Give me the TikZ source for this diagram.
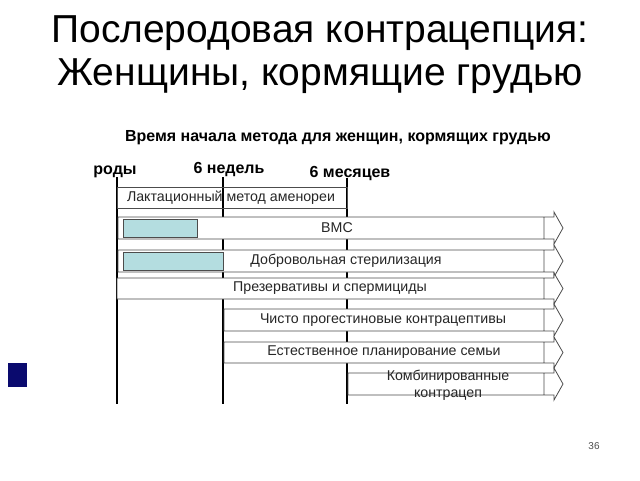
\documentclass[tikz,border=0pt]{standalone}
\usepackage{fontspec}
\setmainfont{Liberation Sans}
\usepackage{tikz}
\usepackage{xcolor}
\usetikzlibrary{positioning}
\definecolor{iudblue}{HTML}{B4DDE0}
\definecolor{slidenavy}{HTML}{0A0A6E}

\begin{document}
\begin{tikzpicture}[x=1pt, y=-1pt, every node/.style={inner sep=0pt},
  timeline/.style={line width=2.6pt},
  rowbox/.style={draw=black!70, fill=white, line width=0.8pt},
  rowtext/.style={font=\fontsize{14.2}{15}\selectfont, text=black!85},
  milestone/.style={font=\bfseries\fontsize{16}{18}\selectfont, anchor=base}]
  \useasboundingbox (0,0) rectangle (640,480);
  % Title
  \node[anchor=base, font=\fontsize{39}{43}\selectfont] (title1) at (320,42) {Послеродовая контрацепция:};
  \node[anchor=base, font=\fontsize{39}{43}\selectfont] (title2) at (320,85) {Женщины, кормящие грудью};
  \node[anchor=base, font=\bfseries\fontsize{16}{18}\selectfont] (subtitle) at (338,141) {Время начала метода для женщин, кормящих грудью};
  % Milestones along the time axis
  \node[milestone] (birth) at (115,174) {роды};
  \node[milestone] (weeks) at (229,173) {6 недель};
  \node[milestone] (months) at (350,177) {6 месяцев};
  \coordinate (birth top) at (117,177);   \coordinate (birth bot) at (117,404);
  \coordinate (weeks top) at (223,177);   \coordinate (weeks bot) at (223,404);
  \coordinate (months top) at (347,178);  \coordinate (months bot) at (347,404);
  \draw[timeline] (birth top) -- (birth bot);
  \draw[timeline] (weeks top) -- (weeks bot);
  \draw[timeline] (months top) -- (months bot);
  % Lactational amenorrhea (no arrow)
  \draw[draw=black!70, line width=0.8pt] (117,187) rectangle (347,208);
  \node[rowtext] (lam) at (231,198) {Лактационный метод аменореи};
  % IUD
  \draw[rowbox] (118,217) rectangle (544,239)
    (544,217) -- (554,217) -- (554,212) -- (563,228) -- (554,244) -- (554,239) -- (544,239);
  \draw[draw=black!70, fill=iudblue, line width=0.8pt] (123,219) rectangle (197,237);
  \node[rowtext] (iud) at (337,228) {ВМС};
  % Sterilisation
  \draw[rowbox] (118,250) rectangle (544,272)
    (544,250) -- (554,250) -- (554,245) -- (563,261) -- (554,277) -- (554,272) -- (544,272);
  \draw[draw=black!70, fill=iudblue, line width=0.8pt] (123,252) rectangle (223,270);
  \node[rowtext] (steril) at (346,261) {Добровольная стерилизация};
  % Condoms and spermicides
  \draw[rowbox] (117,278) rectangle (544,299)
    (544,278) -- (554,278) -- (554,273) -- (563,288.5) -- (554,304) -- (554,299) -- (544,299);
  \node[rowtext] (condom) at (330,288.5) {Презервативы и спермициды};
  % Progestin-only
  \draw[rowbox] (224,309) rectangle (544,331)
    (544,309) -- (554,309) -- (554,304) -- (563,320) -- (554,336) -- (554,331) -- (544,331);
  \node[rowtext] (progestin) at (383,320) {Чисто прогестиновые контрацептивы};
  % Natural family planning
  \draw[rowbox] (224,342) rectangle (544,363)
    (544,342) -- (554,342) -- (554,337) -- (563,352.5) -- (554,368) -- (554,363) -- (544,363);
  \node[rowtext] (natural) at (384,352.5) {Естественное планирование семьи};
  % Combined
  \draw[rowbox] (348,373) rectangle (544,395)
    (544,373) -- (554,373) -- (554,368) -- (563,384) -- (554,400) -- (554,395) -- (544,395);
  \node[rowtext, align=center, font=\fontsize{14.2}{16.5}\selectfont] (combined) at (448,385.5) {Комбинированные\\контрацеп};
  % Slide decoration and page number
  \fill[slidenavy] (8,363) rectangle (27,387);
  \node[font=\fontsize{10}{12}\selectfont, text=black!70] (page) at (594,446) {36};
\end{tikzpicture}
\end{document}
